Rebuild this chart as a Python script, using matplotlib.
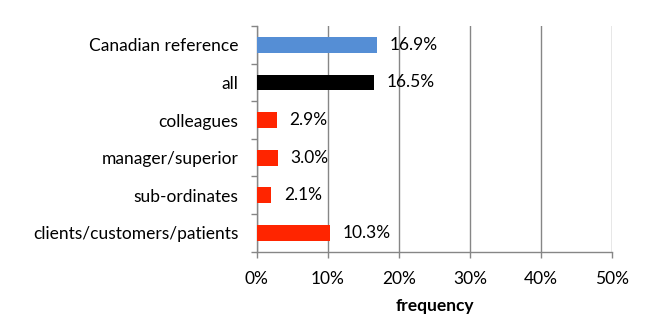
import matplotlib.pyplot as plt
from matplotlib.ticker import FuncFormatter, FixedLocator

plt.rcParams['font.family'] = ['Lato', 'DejaVu Sans']

# data (top to bottom)
categories = ["Canadian reference", "all", "colleagues", "manager/superior",
              "sub-ordinates", "clients/customers/patients"]
values = [16.9, 16.5, 2.9, 3.0, 2.1, 10.3]
colors = ["#558ED5", "#000000", "#FF2500", "#FF2500", "#FF2500", "#FF2500"]
xticks = [0, 10, 20, 30, 40, 50]

fs = 12.5

fig = plt.figure(figsize=(6.68, 3.31), dpi=100)
ax = fig.add_axes([256.5 / 668, 1 - 251.7 / 331, (612.3 - 256.5) / 668, (251.7 - 26) / 331])

ypos = list(range(len(categories)))[::-1]
ax.barh(ypos, values, height=0.42, color=colors, zorder=3)

for y, v in zip(ypos, values):
    ax.annotate(f"{v:.1f}%", (v, y), xytext=(9, 0), textcoords="offset points",
                va="center", ha="left", fontsize=fs, color="black")

ax.set_xlim(0, 50)
ax.set_ylim(-0.5, len(categories) - 0.5)
ax.set_xticks(xticks)
ax.xaxis.set_major_formatter(FuncFormatter(lambda x, p: f"{x:.0f}%"))
ax.set_yticks(ypos)
ax.set_yticklabels(categories)
ax.yaxis.set_minor_locator(FixedLocator([i - 0.5 for i in range(len(categories) + 1)]))
ax.tick_params(axis="y", which="major", length=0, pad=13, labelsize=fs)
ax.tick_params(axis="y", which="minor", length=4, color="#868686", width=1)
ax.tick_params(axis="x", length=4, color="#868686", width=1, labelsize=fs, pad=10)

ax.grid(axis="x", color="#868686", linewidth=1, zorder=0)
for s in ["top", "right"]:
    ax.spines[s].set_visible(False)
for s in ["left", "bottom"]:
    ax.spines[s].set_color("#868686")
    ax.spines[s].set_linewidth(1)

ax.set_xlabel("frequency", fontweight="bold", fontsize=fs, labelpad=8)

fig.savefig("out.png", dpi=100)
